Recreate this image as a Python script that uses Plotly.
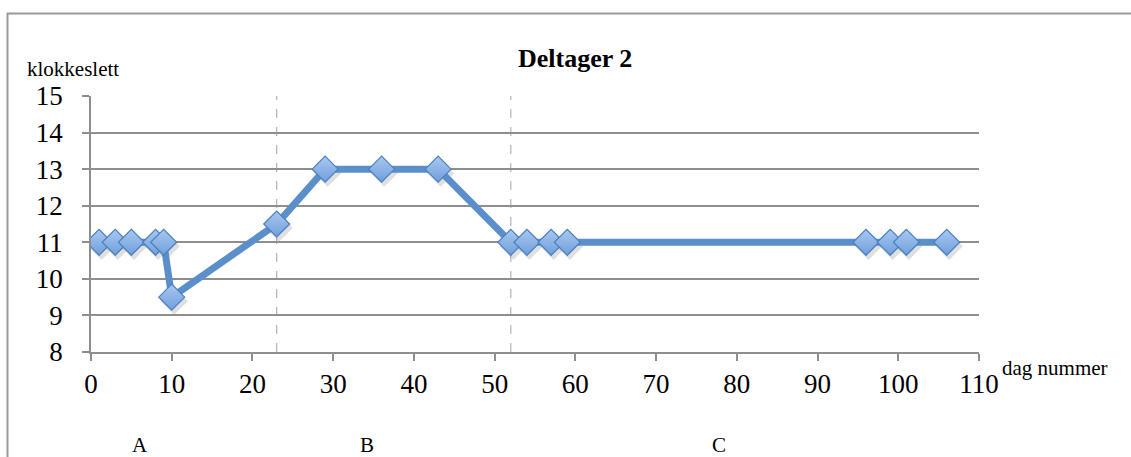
import plotly.graph_objects as go

# Day number and time of day for participant 2
dag = [1, 3, 5, 8, 9, 10, 23, 29, 36, 43, 52, 54, 57, 59, 96, 99, 101, 106]
klokkeslett = [11, 11, 11, 11, 11, 9.5, 11.5, 13, 13, 13, 11, 11, 11, 11, 11, 11, 11, 11]

# Phase boundaries and phase labels
faser_grenser = [23, 52]
fase_navn = ["A", "B", "C"]
fase_x_paper = [0.0439, 0.3007, 0.7173]

x_ticks = list(range(0, 111, 10))
y_ticks = list(range(8, 16))

W, H = 1131, 457
L, R, T, B = 91, 152, 96, 105
plot_w = W - L - R
plot_h = H - T - B

serif = "'Liberation Serif', 'Times New Roman', Times, serif"
grid = "#8e8e8e"


def py(pixel_y):
    """Paper y coordinate for a pixel row measured from the top of the page."""
    return (H - B - pixel_y) / plot_h


def px(pixel_x):
    return (pixel_x - L) / plot_w


fig = go.Figure()

# soft drop shadow under the markers (same data on offset overlay axes)
dx = 2.5 * 110 / plot_w
dy = 4.0 * 7 / plot_h
fig.add_trace(go.Scatter(
    x=dag, y=klokkeslett, mode="markers", xaxis="x2", yaxis="y2",
    marker=dict(symbol="diamond", size=21, color="rgba(80,80,80,0.18)",
                line=dict(width=0)),
    hoverinfo="skip", showlegend=False,
))

fig.add_trace(go.Scatter(
    x=dag, y=klokkeslett, mode="lines+markers", xaxis="x3", yaxis="y3",
    line=dict(color="#5b8fc9", width=7),
    marker=dict(symbol="diamond", size=20, color="#a9c8f0",
                gradient=dict(type="vertical", color="#6f9fdc"),
                line=dict(color="#4a7fc0", width=1.2)),
    showlegend=False,
))

annotations = [
    dict(text="<b>Deltager 2</b>", x=px(575), y=py(58), xref="paper", yref="paper",
         yanchor="middle", showarrow=False, font=dict(family=serif, size=26, color="black")),
    dict(text="klokkeslett", x=px(25), y=py(69), xref="paper", yref="paper",
         xanchor="left", yanchor="middle", showarrow=False,
         font=dict(family=serif, size=21, color="black")),
    dict(text="dag nummer", x=px(1000), y=py(368), xref="paper", yref="paper",
         xanchor="left", yanchor="middle", showarrow=False,
         font=dict(family=serif, size=21, color="black")),
]
for navn, fx in zip(fase_navn, fase_x_paper):
    annotations.append(dict(text=navn, x=fx, y=py(445), xref="paper", yref="paper",
                            yanchor="middle", showarrow=False,
                            font=dict(family=serif, size=21, color="black")))

shapes = [dict(type="rect", xref="paper", yref="paper",
               x0=px(7.5), x1=1.3, y0=-0.6, y1=py(13.5),
               line=dict(color="#9a9a9a", width=2), fillcolor="rgba(0,0,0,0)",
               layer="below")]
for g in faser_grenser:
    shapes.append(dict(type="line", xref="x", yref="paper", x0=g, x1=g, y0=0, y1=1,
                       line=dict(color="#b4b4b4", width=1.2, dash="dash"), layer="below"))

fig.update_layout(
    width=W, height=H,
    margin=dict(l=L, r=R, t=T, b=B),
    paper_bgcolor="white", plot_bgcolor="white",
    font=dict(family=serif, color="black"),
    xaxis=dict(range=[0, 110], tickvals=x_ticks, showgrid=False, zeroline=False,
               showline=True, linecolor=grid, linewidth=1.5,
               ticks="outside", ticklen=7, tickcolor=grid, tickwidth=1.5,
               tickfont=dict(family=serif, size=27)),
    yaxis=dict(range=[8, 15], tickvals=y_ticks, showgrid=True, gridcolor=grid,
               gridwidth=1.5, zeroline=False, showline=True, linecolor=grid,
               linewidth=1.5, ticks="outside", ticklen=7, tickcolor=grid, tickwidth=1.5,
               tickfont=dict(family=serif, size=27), ticklabelstandoff=14),
    xaxis2=dict(range=[0 - dx, 110 - dx], overlaying="x", visible=False),
    yaxis2=dict(range=[8 + dy, 15 + dy], overlaying="y", visible=False),
    xaxis3=dict(range=[0, 110], overlaying="x", visible=False),
    yaxis3=dict(range=[8, 15], overlaying="y", visible=False),
    annotations=annotations,
    shapes=shapes,
)

fig.write_html("out.html")
